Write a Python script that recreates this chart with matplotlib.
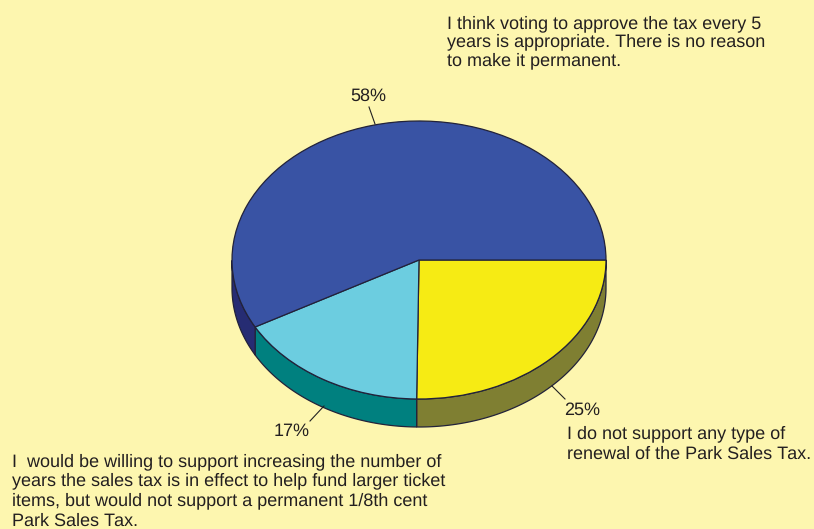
import numpy as np
import matplotlib
matplotlib.use("Agg")
import matplotlib.pyplot as plt

categories = ["I do not support any type of\nrenewal of the Park Sales Tax.",
              "I  would be willing to support increasing the number of\nyears the sales tax is in effect to help fund larger ticket\nitems, but would not support a permanent 1/8th cent\nPark Sales Tax.",
              "I think voting to approve the tax every 5\nyears is appropriate. There is no reason\nto make it permanent."]
values = [25.2, 16.8, 58]
labels = ["25%", "17%", "58%"]
top_colors = ["#F6EB14", "#6CCDE0", "#3953A4"]
side_colors = ["#7F7F32", "#00807F", "#262C73"]
BG = "#FDF6AF"
W, H = 814, 529
cx, cy, rx, ry, depth = 419, 260, 187, 139, 28

plt.rcParams['font.family'] = ['Liberation Sans', 'DejaVu Sans']
plt.rcParams['text.hinting'] = 'none'
plt.rcParams['text.hinting_factor'] = 1
fig = plt.figure(figsize=(W/100, H/100), dpi=100, facecolor=BG)
ax = fig.add_axes([0, 0, 1, 1], facecolor=BG)

wedges, _ = ax.pie(values, startangle=0, counterclock=False, center=(0, 0), radius=1,
                   colors=top_colors, wedgeprops=dict(edgecolor="#22223a", linewidth=0.9, zorder=3))
ax.set_aspect('auto')
# data units: 1 = ellipse radius; map to pixels
ax.set_xlim(-cx/rx, (W-cx)/rx)
ax.set_ylim(-(H-cy)/ry, cy/ry)
d = depth/ry

# side walls
frac = np.cumsum([0]+values)/sum(values)
for i, c in enumerate(side_colors):
    a0 = -2*np.pi*frac[i]
    a1 = -2*np.pi*frac[i+1]
    t = np.linspace(a0, a1, 300)
    t = t[t >= -np.pi]
    if len(t) == 0:
        continue
    x = np.cos(t); y = np.sin(t)
    px = np.r_[x, x[::-1]]
    py = np.r_[y, y[::-1]-d]
    ax.fill(px, py, facecolor=c, edgecolor="#22223a", linewidth=0.9, zorder=2)

def P(px, py):
    return (px-cx)/rx, (cy-py)/ry

fs = 13.05
# leader lines and percentage labels
for (a, b) in [((369, 107), (375, 124)), ((552, 386), (565, 399)), ((324, 406), (310, 421))]:
    ax.plot(*zip(P(*a), P(*b)), color="#222222", lw=0.8, zorder=4)
for s, (px, py) in zip(labels, [(582, 410), (292, 431), (368, 96)]):
    ax.text(*P(px, py), s, fontsize=fs, ha="center", va="center", color="#231F20")
for s, (px, py), ls in zip(categories, [(567, 444), (12, 491), (447, 42)], [1.3, 1.24, 1.16]):
    ax.text(*P(px, py), s, fontsize=fs, ha="left", va="center", color="#231F20", linespacing=ls)

fig.savefig("out.png", dpi=100, facecolor=BG)
